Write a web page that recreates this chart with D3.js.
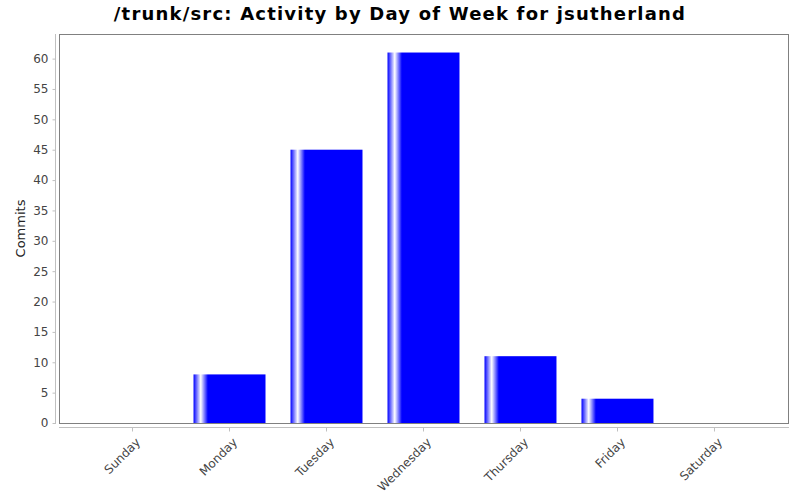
<!DOCTYPE html>
<html>
<head>
<meta charset="utf-8">
<script src="https://cdn.jsdelivr.net/npm/d3@7"></script>
<style>
  body { margin: 0; background: #fff; }
  text { font-family: "DejaVu Sans", sans-serif; }
</style>
</head>
<body>
<div id="chart"></div>
<script>
// data
var days = ["Sunday", "Monday", "Tuesday", "Wednesday", "Thursday", "Friday", "Saturday"];
var commits = [0, 8, 45, 61, 11, 4, 0];
var yTicks = d3.range(0, 61, 5);

var width = 800,
  height = 500;
var plot = { left: 59, right: 788, top: 34, bottom: 423 };

var svg = d3
  .select("#chart")
  .append("svg")
  .attr("width", width)
  .attr("height", height);

// gradient like the old java bar painter
var grad = svg
  .append("defs")
  .append("linearGradient")
  .attr("id", "barGrad")
  .attr("x1", "0%")
  .attr("x2", "100%")
  .attr("y1", "0%")
  .attr("y2", "0%");
grad.append("stop").attr("offset", "0%").attr("stop-color", "#0000ff");
grad.append("stop").attr("offset", "10%").attr("stop-color", "#ffffff");
grad.append("stop").attr("offset", "20%").attr("stop-color", "#0000ff");
grad.append("stop").attr("offset", "100%").attr("stop-color", "#0000ff");

// title
svg
  .append("text")
  .attr("x", width / 2)
  .attr("y", 20)
  .attr("text-anchor", "middle")
  .attr("font-size", "18px")
  .attr("font-weight", "bold")
  .attr("letter-spacing", "1.2px")
  .attr("fill", "#000")
  .text("/trunk/src: Activity by Day of Week for jsutherland");

var x = d3
  .scaleBand()
  .domain(days)
  .range([plot.left, plot.right])
  .paddingInner(0.258)
  .paddingOuter(0.387);

var y = d3
  .scaleLinear()
  .domain([0, d3.max(commits) * 1.05])
  .range([plot.bottom, plot.top]);

// plot area outline
svg
  .append("rect")
  .attr("x", plot.left + 0.5)
  .attr("y", plot.top + 0.5)
  .attr("width", plot.right - plot.left)
  .attr("height", plot.bottom - plot.top)
  .attr("fill", "#fff")
  .attr("stroke", "#808080");

// bars
svg
  .selectAll("rect.bar")
  .data(days)
  .join("rect")
  .attr("class", "bar")
  .attr("x", function (d) {
    return x(d);
  })
  .attr("y", function (d, i) {
    return y(commits[i]);
  })
  .attr("width", x.bandwidth())
  .attr("height", function (d, i) {
    return y(0) - y(commits[i]);
  })
  .attr("fill", "url(#barGrad)");

// y axis
var yAxis = svg
  .append("g")
  .attr("transform", "translate(55.5,0)")
  .call(d3.axisLeft(y).tickValues(yTicks).tickSize(3).tickPadding(4));
yAxis.select(".domain").attr("stroke", "#c0c0c0").attr("d", "M0," + plot.top + "V" + (plot.bottom + 1));
yAxis.selectAll(".tick line").attr("stroke", "#c0c0c0");
yAxis
  .selectAll(".tick text")
  .attr("font-size", "12px")
  .attr("font-family", "DejaVu Sans")
  .attr("fill", "#444");

// x axis
var xAxis = svg
  .append("g")
  .attr("transform", "translate(0,427.5)")
  .call(d3.axisBottom(x).tickSize(4).tickSizeOuter(0));
xAxis.select(".domain").attr("stroke", "#c0c0c0").attr("d", "M" + plot.left + ",0H" + (plot.right + 1));
xAxis.selectAll(".tick line").attr("stroke", "#c0c0c0");
xAxis
  .selectAll(".tick text")
  .attr("font-size", "12px")
  .attr("font-family", "DejaVu Sans")
  .attr("fill", "#444")
  .attr("text-anchor", "end")
  .attr("dominant-baseline", "middle")
  .attr("y", 0)
  .attr("dy", 0)
  .attr("transform", "translate(6,13) rotate(-45)");

// y axis label
svg
  .append("text")
  .attr("transform", "translate(25," + (plot.top + plot.bottom) / 2 + ") rotate(-90)")
  .attr("text-anchor", "middle")
  .attr("font-size", "13px")
  .attr("fill", "#222")
  .text("Commits");
</script>
</body>
</html>
